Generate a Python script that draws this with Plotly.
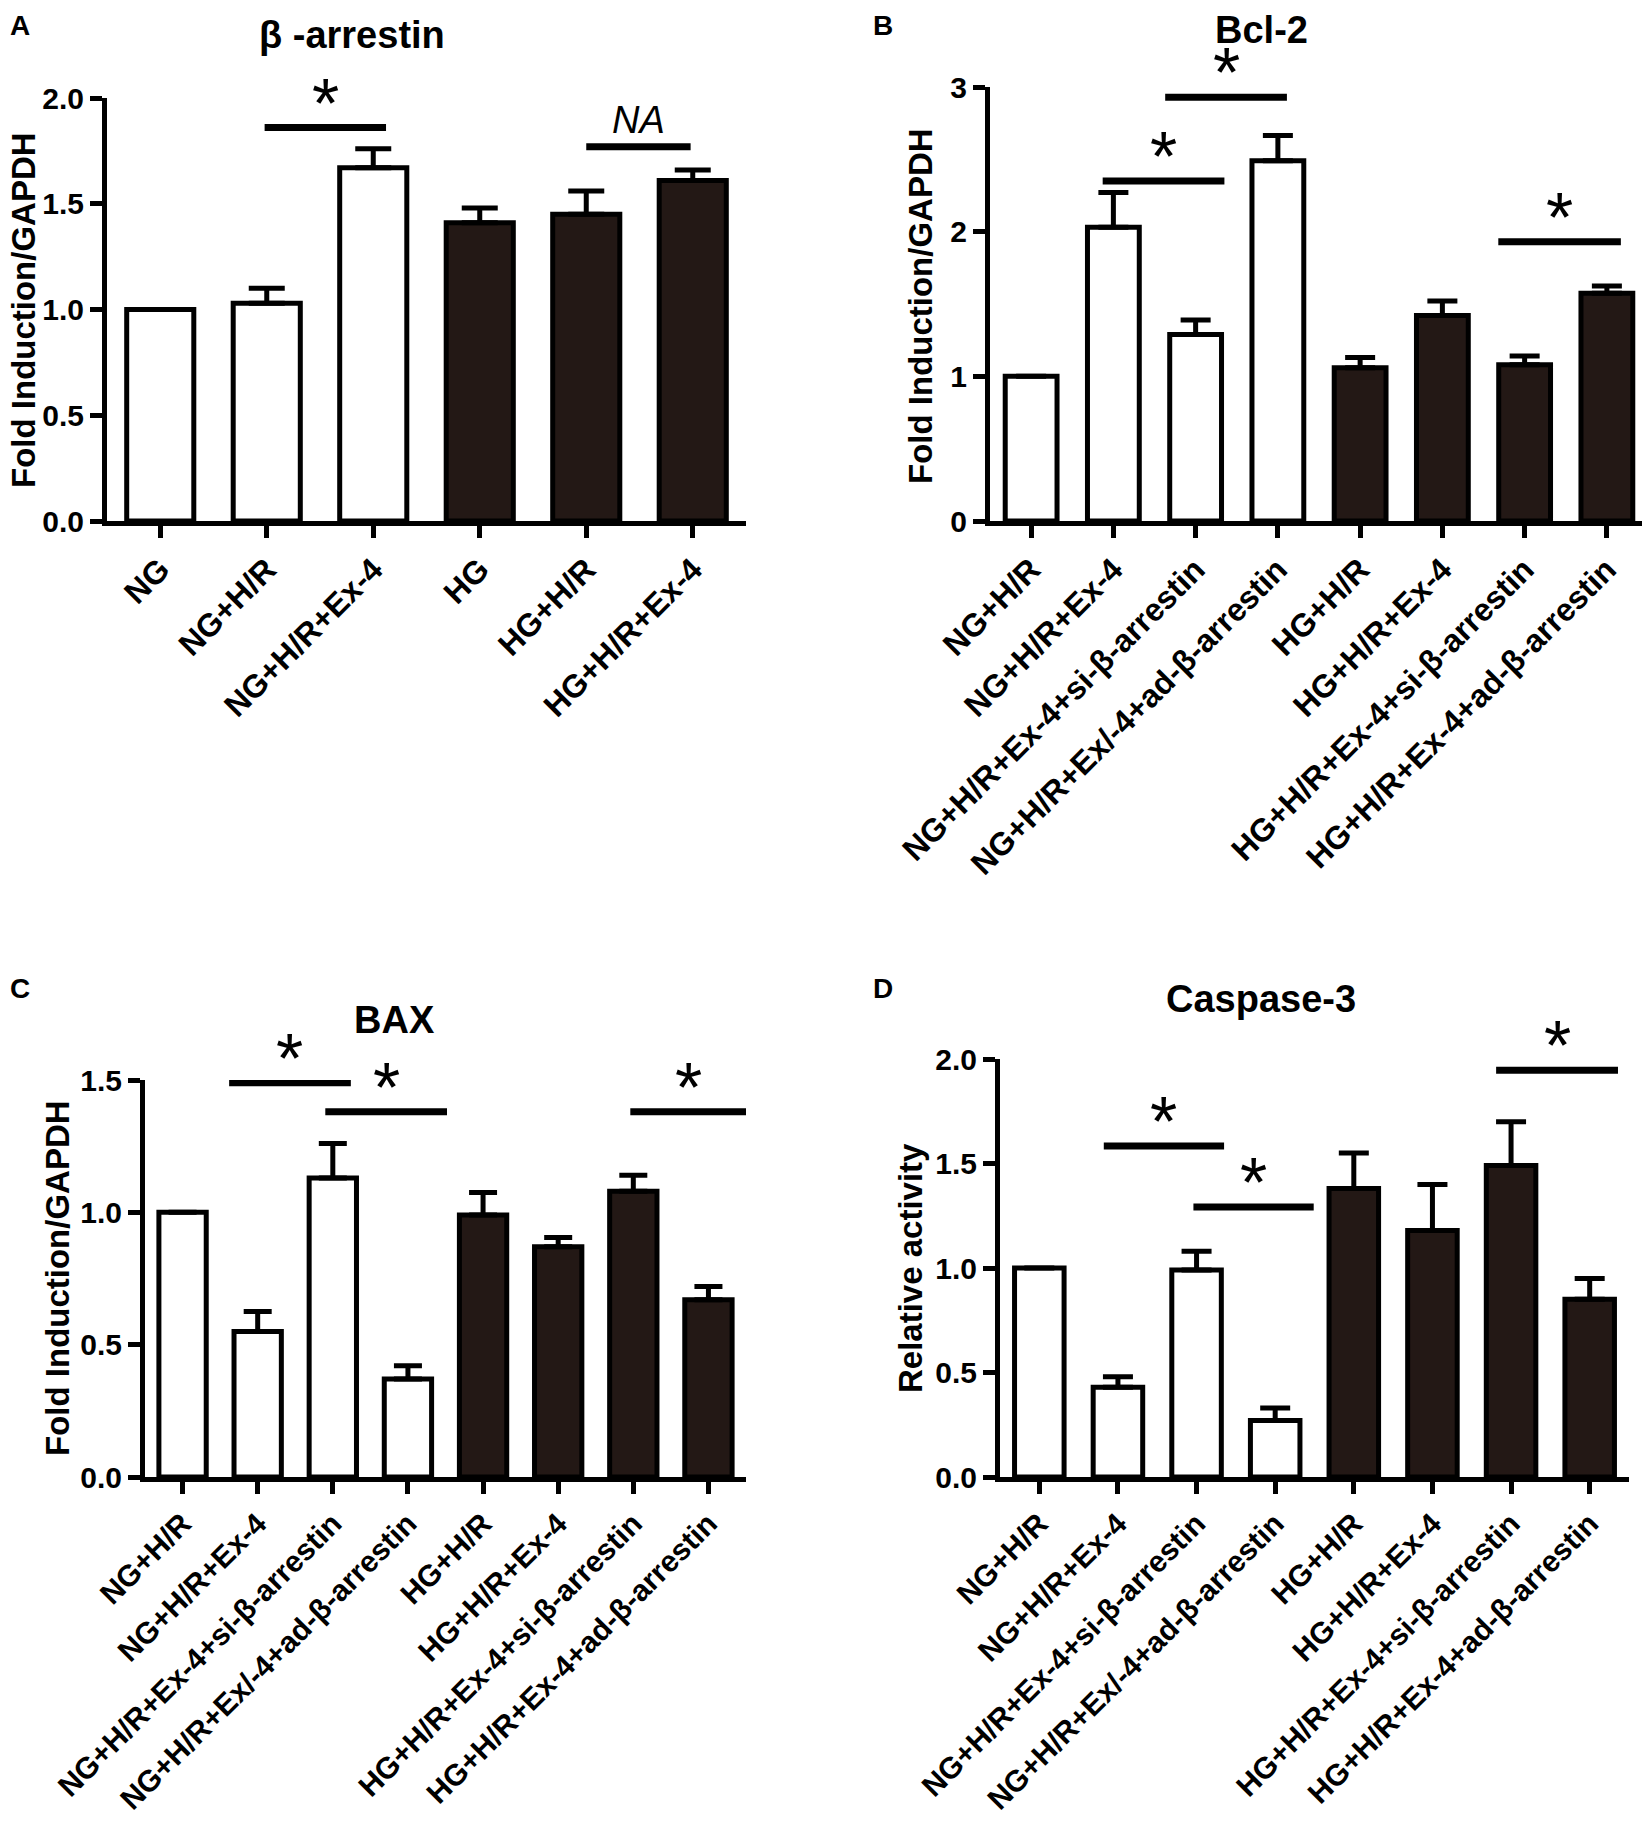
import plotly.graph_objects as go

W, H = 1650, 1824
OFF = 8  # the page body adds an 8px margin, so positions are shifted back by that much
FONT = "Liberation Sans, Arial, sans-serif"
DARK = "#231815"

# ---- data ----
a_cats = ["NG", "NG+H/R", "NG+H/R+Ex-4", "HG", "HG+H/R", "HG+H/R+Ex-4"]
a_vals = [1.00, 1.03, 1.67, 1.41, 1.45, 1.61]
a_err = [0.00, 0.07, 0.09, 0.07, 0.11, 0.05]

b_cats = ["NG+H/R", "NG+H/R+Ex-4", "NG+H/R+Ex-4+si-β-arrestin", "NG+H/R+Ex/-4+ad-β-arrestin",
          "HG+H/R", "HG+H/R+Ex-4", "HG+H/R+Ex-4+si-β-arrestin", "HG+H/R+Ex-4+ad-β-arrestin"]
b_vals = [1.00, 2.03, 1.29, 2.49, 1.06, 1.42, 1.08, 1.575]
b_err = [0.00, 0.24, 0.10, 0.175, 0.07, 0.10, 0.06, 0.05]

c_cats = b_cats
c_vals = [1.00, 0.55, 1.13, 0.37, 0.99, 0.87, 1.08, 0.67]
c_err = [0.00, 0.075, 0.13, 0.05, 0.085, 0.035, 0.06, 0.05]

d_cats = b_cats
d_vals = [1.00, 0.43, 0.99, 0.27, 1.38, 1.18, 1.49, 0.85]
d_err = [0.00, 0.05, 0.09, 0.06, 0.17, 0.22, 0.21, 0.10]

# bar colours: normal glucose groups white, high glucose groups dark
a_fill = ["white"] * 3 + [DARK] * 3
bcd_fill = ["white"] * 4 + [DARK] * 4

# significance bars: (x0, x1, y, label) in data units
a_lines = [(0.98, 2.12, 1.86, "*"), (4.0, 4.98, 1.77, "NA")]
b_lines = [(0.87, 2.35, 2.35, "*"), (1.63, 3.11, 2.93, "*"), (5.68, 7.17, 1.93, "*")]
c_lines = [(0.62, 2.24, 1.49, "*"), (1.90, 3.52, 1.38, "*"), (5.96, 7.50, 1.38, "*")]
d_lines = [(0.82, 2.35, 1.584, "*"), (1.96, 3.49, 1.292, "*"), (5.81, 7.36, 1.946, "*")]

panels = [
    dict(cats=a_cats, vals=a_vals, err=a_err, fill=a_fill, lines=a_lines, cap=18, tfs=32,
         xdom=(107, 746), ydom=(521, 98), ymax=2.0, dtick=0.5, fmt=".1f"),
    dict(cats=b_cats, vals=b_vals, err=b_err, fill=bcd_fill, lines=b_lines, cap=15, tfs=32,
         xdom=(990, 1648), ydom=(521, 87), ymax=3.0, dtick=1, fmt="d"),
    dict(cats=c_cats, vals=c_vals, err=c_err, fill=bcd_fill, lines=c_lines, cap=14, tfs=30,
         xdom=(145, 746), ydom=(1477, 1080), ymax=1.5, dtick=0.5, fmt=".1f"),
    dict(cats=d_cats, vals=d_vals, err=d_err, fill=bcd_fill, lines=d_lines, cap=15, tfs=30,
         xdom=(1000, 1629), ydom=(1477, 1059), ymax=2.0, dtick=0.5, fmt=".1f"),
]


def px(x):
    return (x - OFF) / W


def py(y):
    return 1 - (y - OFF) / H


fig = go.Figure()
shapes = []
annotations = []

for i, p in enumerate(panels, start=1):
    sx = "" if i == 1 else str(i)
    n = len(p["cats"])
    fig.add_trace(go.Bar(
        x=p["cats"], y=p["vals"],
        xaxis="x" + sx, yaxis="y" + sx,
        width=0.63,
        marker=dict(color=p["fill"], line=dict(color="black", width=5)),
        error_y=dict(type="data", symmetric=False, array=p["err"], arrayminus=[0] * n,
                     color="black", thickness=5, width=p["cap"]),
        showlegend=False,
    ))
    axis_common = dict(
        showline=True, linewidth=5, linecolor="black",
        ticks="outside", ticklen=12, tickwidth=5, tickcolor="black",
        showgrid=False, zeroline=False, automargin=False,
    )
    fig.layout["xaxis" + sx] = dict(
        domain=[px(p["xdom"][0]), px(p["xdom"][1])],
        anchor="y" + sx, range=[-0.5, n - 0.5], tickangle=-45,
        tickfont=dict(family=FONT, size=p["tfs"], color="black", weight="bold"),
        **axis_common)
    fig.layout["yaxis" + sx] = dict(
        domain=[py(p["ydom"][0]), py(p["ydom"][1])],
        anchor="x" + sx, range=[0, p["ymax"]], dtick=p["dtick"], tickformat=p["fmt"],
        tickfont=dict(family=FONT, size=30, color="black", weight="bold"),
        **axis_common)
    for x0, x1, y, lab in p["lines"]:
        shapes.append(dict(type="line", xref="x" + sx, yref="y" + sx,
                           x0=x0, x1=x1, y0=y, y1=y, line=dict(color="black", width=7)))
        # label sits a fixed pixel distance above its bar (anchored on the bar so it is never hidden)
        if lab == "*":
            annotations.append(dict(xref="x" + sx, yref="y" + sx, x=(x0 + x1) / 2, y=y,
                                    text="*", showarrow=False, yshift=24,
                                    font=dict(family=FONT, size=70, color="black")))
        else:
            annotations.append(dict(xref="x" + sx, yref="y" + sx, x=(x0 + x1) / 2, y=y,
                                    text="<i>" + lab + "</i>", showarrow=False, yshift=27,
                                    font=dict(family=FONT, size=38, color="black")))


def place(x, y):
    # None pins the text box to the figure edge so that it stays inside the picture
    ax = dict(x=0, xanchor="left") if x is None else dict(x=px(x), xanchor="center")
    ay = dict(y=1, yanchor="top") if y is None else dict(y=py(y), yanchor="middle")
    return {**ax, **ay}


# panel titles
titles = [("β -arrestin", 352, 35), ("Bcl-2", 1261, None), ("BAX", 394, 1020), ("Caspase-3", 1261, 999)]
for t, x, y in titles:
    annotations.append(dict(xref="paper", yref="paper", text=t, showarrow=False, borderpad=0,
                            font=dict(family=FONT, size=38, color="black", weight="bold"),
                            **place(x, y)))

# panel letters
letters = [("A", None, None), ("B", 883, None), ("C", None, 989), ("D", 883, 989)]
for t, x, y in letters:
    annotations.append(dict(xref="paper", yref="paper", text=t, showarrow=False,
                            font=dict(family=FONT, size=28, color="black", weight="bold"),
                            **place(x, y)))

# y axis titles; the one hugging the left edge gets a tight box around its capitals
ytitles = [("Fold Induction/GAPDH", None, 310, 28), ("Fold Induction/GAPDH", 921, 306, None),
           ("Fold Induction/GAPDH", 57, 1278, None), ("Relative activity", 910, 1268, None)]
for t, x, y, hgt in ytitles:
    ann = dict(xref="paper", yref="paper", text=t, showarrow=False, textangle=-90,
               font=dict(family=FONT, size=33, color="black", weight="bold"), **place(x, y))
    if hgt:
        ann.update(height=hgt, valign="middle", borderpad=0)
    annotations.append(ann)

fig.update_layout(
    width=W, height=H,
    margin=dict(l=0, r=0, t=0, b=0, pad=0, autoexpand=False),
    paper_bgcolor="white", plot_bgcolor="white",
    shapes=shapes, annotations=annotations,
    font=dict(family=FONT, color="black"),
)

fig.write_html("out.html")
